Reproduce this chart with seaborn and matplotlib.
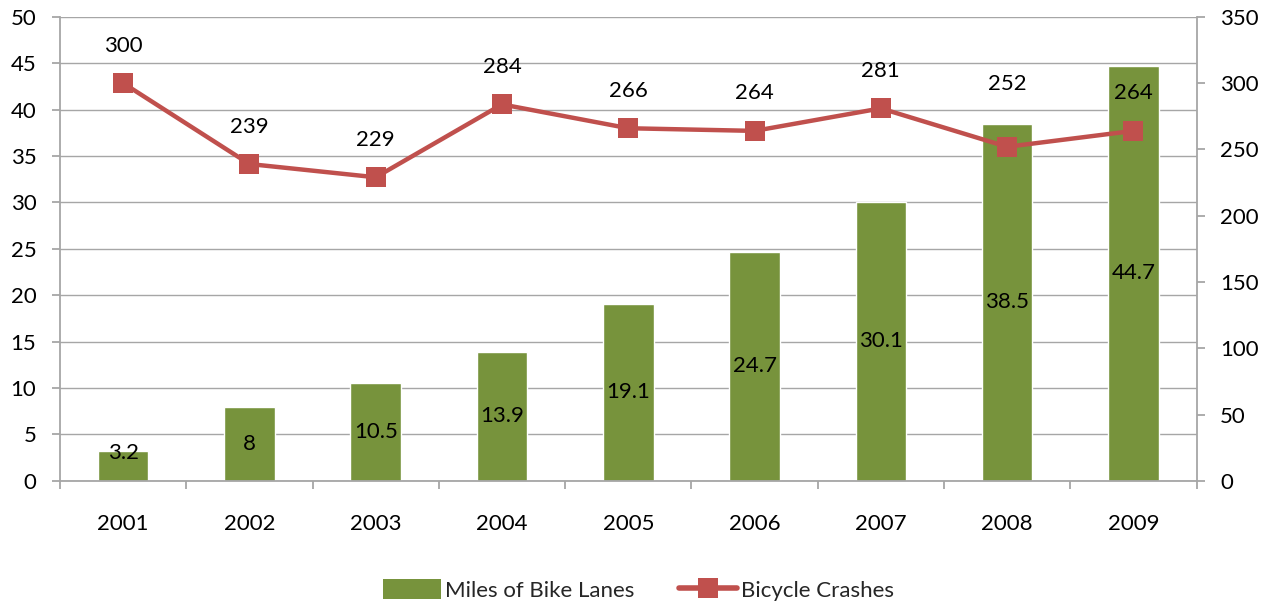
import matplotlib
matplotlib.use("Agg")
import matplotlib.pyplot as plt
import pandas as pd
import seaborn as sns
from matplotlib.lines import Line2D
from matplotlib.patches import Patch

# chart data
years = ["2001", "2002", "2003", "2004", "2005", "2006", "2007", "2008", "2009"]
miles_bike_lanes = [3.2, 8, 10.5, 13.9, 19.1, 24.7, 30.1, 38.5, 44.7]
bicycle_crashes = [300, 239, 229, 284, 266, 264, 281, 252, 264]

BAR_COLOR = "#77933C"
LINE_COLOR = "#C0504D"
GRID_COLOR = "#A6A6A6"
FS = 16

sns.set_theme(style="white")
plt.rcParams["font.family"] = ["Lato", "DejaVu Sans"]

df = pd.DataFrame({"year": years, "miles": miles_bike_lanes, "crashes": bicycle_crashes})
df["pos"] = range(len(df))

fig = plt.figure(figsize=(12.77, 6.04), dpi=100)
ax = fig.add_axes([0.047, 0.204, 0.890, 0.768])

# bars on the left axis
sns.barplot(data=df, x="year", y="miles", color=BAR_COLOR, width=0.4,
            saturation=1, ax=ax, zorder=2)
ax.set_ylim(0, 50)
ax.set_yticks(range(0, 51, 5))
ax.set_xlim(-0.5, len(years) - 0.5)
ax.set_xlabel("")
ax.set_ylabel("")
ax.yaxis.grid(True, color=GRID_COLOR, linewidth=1)
ax.set_axisbelow(True)

for i, v in enumerate(miles_bike_lanes):
    ax.text(i, max(v / 2, 3.0), f"{v:g}", ha="center", va="center",
            fontsize=FS, color="black", zorder=5)

# line on the right axis
ax2 = ax.twinx()
sns.lineplot(data=df, x="pos", y="crashes", color=LINE_COLOR, linewidth=3.2,
             marker="s", markersize=14, markeredgewidth=0, ax=ax2, zorder=4)
ax2.set_ylim(0, 350)
ax2.set_yticks(range(0, 351, 50))
ax2.set_xlim(-0.5, len(years) - 0.5)
ax2.set_xlabel("")
ax2.set_ylabel("")
ax2.grid(False)

label_offsets = {7: 45}
for i, v in enumerate(bicycle_crashes):
    ax2.annotate(str(v), (i, v), xytext=(0, label_offsets.get(i, 27)),
                 textcoords="offset points", ha="center", va="center",
                 fontsize=FS, color="black")

# axes styling
for a in (ax, ax2):
    a.spines["top"].set_visible(False)
    for side in ("left", "right", "bottom"):
        a.spines[side].set_color(GRID_COLOR)
        a.spines[side].set_linewidth(1.3)

ax.spines["right"].set_visible(False)
ax2.spines["left"].set_visible(False)
ax2.spines["bottom"].set_visible(False)

ax.tick_params(axis="y", which="both", left=True, length=6, width=1.3,
               color=GRID_COLOR, pad=11, labelsize=FS, labelcolor="black")
ax2.tick_params(axis="y", which="both", right=True, length=6, width=1.3,
                color=GRID_COLOR, pad=11, labelsize=FS, labelcolor="black")

# category ticks sit between the bars
ax.set_xticks(range(len(years)))
ax.set_xticklabels(years)
ax.tick_params(axis="x", which="major", bottom=False, length=0, pad=24,
               labelsize=FS, labelcolor="black", labelbottom=True)
ax.set_xticks([i - 0.5 for i in range(len(years) + 1)], minor=True)
ax.tick_params(axis="x", which="minor", bottom=True, length=6, width=1.3,
               color=GRID_COLOR)

handles = [
    Patch(facecolor=BAR_COLOR, edgecolor="none", label="Miles of Bike Lanes"),
    Line2D([0], [0], color=LINE_COLOR, linewidth=4, marker="s",
           markersize=15, markeredgewidth=0, label="Bicycle Crashes"),
]
fig.legend(handles=handles, loc="center", bbox_to_anchor=(0.5, 0.023), ncol=2,
           frameon=False, fontsize=FS, handlelength=2.6, handleheight=1.0,
           handletextpad=0.2, columnspacing=2.0)

fig.savefig("out.png", dpi=100)
